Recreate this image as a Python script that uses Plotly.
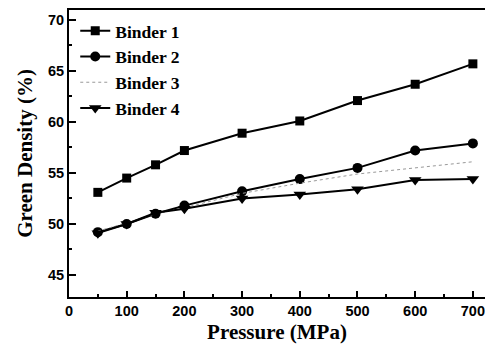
import plotly.graph_objects as go

pressure = [50, 100, 150, 200, 300, 400, 500, 600, 700]
binder1 = [53.1, 54.5, 55.8, 57.2, 58.9, 60.1, 62.1, 63.7, 65.7]
binder2 = [49.2, 50.0, 51.0, 51.8, 53.2, 54.4, 55.5, 57.2, 57.9]
binder3 = [49.3, 50.1, 51.0, 51.6, 53.0, 54.0, 54.9, 55.5, 56.1]
binder4 = [49.1, 50.0, 51.1, 51.5, 52.5, 52.9, 53.4, 54.3, 54.4]
names = ["Binder 1", "Binder 2", "Binder 3", "Binder 4"]

fig = go.Figure()
fig.add_trace(go.Scatter(x=pressure, y=binder1, name=names[0], mode="lines+markers",
                         line=dict(color="black", width=2),
                         marker=dict(symbol="square", size=9, color="black")))
fig.add_trace(go.Scatter(x=pressure, y=binder2, name=names[1], mode="lines+markers",
                         line=dict(color="black", width=2),
                         marker=dict(symbol="circle", size=10, color="black")))
fig.add_trace(go.Scatter(x=pressure, y=binder3, name=names[2], mode="lines",
                         line=dict(color="#999999", width=1, dash="dot")))
fig.add_trace(go.Scatter(x=pressure, y=binder4, name=names[3], mode="lines+markers",
                         line=dict(color="black", width=2),
                         marker=dict(symbol="triangle-down", size=11, color="black")))

tickfont = dict(family="Liberation Sans", size=14.5, color="black", weight="bold")
titlefont = dict(family="Liberation Serif", size=21, color="black", weight="bold")

fig.update_layout(
    width=485, height=347,
    margin=dict(l=69, r=0, t=10, b=50),
    paper_bgcolor="white", plot_bgcolor="white",
    showlegend=True,
    legend=dict(x=0.015, y=0.99, xanchor="left", yanchor="top",
                bgcolor="rgba(0,0,0,0)",
                font=dict(family="Liberation Serif", size=17.5, color="black", weight="bold"),
                tracegroupgap=0),
)
fig.update_xaxes(range=[0, 721], tickvals=[0, 100, 200, 300, 400, 500, 600, 700],
                 ticks="inside", ticklen=6, tickwidth=2, tickcolor="black",
                 minor=dict(dtick=50, ticks="inside", ticklen=3, tickwidth=1.5, tickcolor="black"),
                 showline=True, linecolor="black", linewidth=2, mirror=True,
                 showgrid=False, zeroline=False, tickfont=tickfont,
                 title=dict(text="Pressure (MPa)", font=titlefont, standoff=6))
fig.update_yaxes(range=[42.84, 70.98], tickvals=[45, 50, 55, 60, 65, 70],
                 ticks="inside", ticklen=7, tickwidth=2, tickcolor="black",
                 minor=dict(dtick=2.5, ticks="inside", ticklen=3, tickwidth=1.5, tickcolor="black"),
                 showline=True, linecolor="black", linewidth=2, mirror=False,
                 showgrid=False, zeroline=False, tickfont=tickfont,
                 title=dict(text="Green Density (%)", font=titlefont, standoff=10))

fig.write_html("out.html")
